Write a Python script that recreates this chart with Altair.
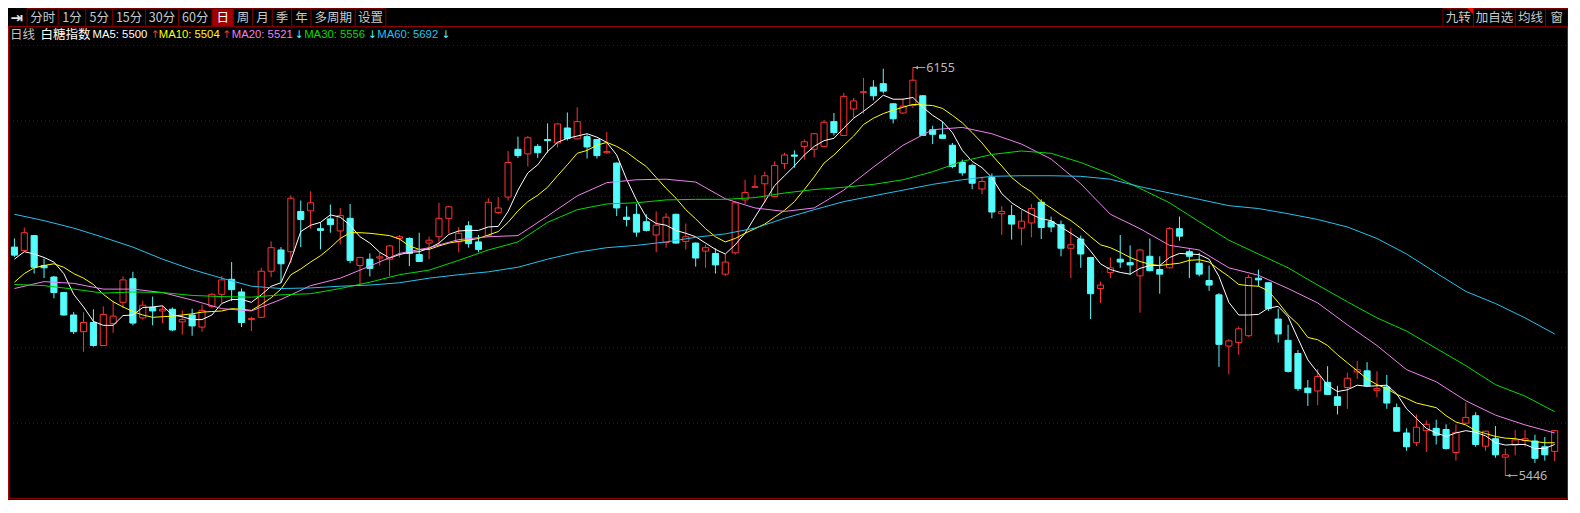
import altair as alt
import numpy as np
import pandas as pd

# ---------------- data ----------------
opens = [5843, 5837, 5863, 5811, 5791, 5764, 5725, 5696, 5712, 5672,
         5710, 5747, 5788, 5720, 5738, 5732, 5735, 5713, 5725, 5704,
         5740, 5761, 5787, 5765, 5717, 5721, 5801, 5838, 5835, 5905,
         5906, 5875, 5892, 5871, 5893, 5811, 5822, 5824, 5822, 5858,
         5858, 5830, 5850, 5861, 5893, 5852, 5880, 5852, 5863, 5903,
         5930, 6013, 6005, 6018, 6030, 6024, 6050, 6031, 6035, 6030,
         6007, 5989, 5895, 5900, 5887, 5864, 5851, 5900, 5853, 5850,
         5836, 5832, 5796, 5833, 5925, 5947, 5953, 5931, 5988, 6003,
         6018, 6013, 6018, 6061, 6037, 6083, 6112, 6121, 6127, 6092,
         6076, 6089, 6106, 6047, 6038, 6020, 5990, 5985, 5944, 5964,
         5901, 5898, 5876, 5885, 5921, 5887, 5882, 5841, 5857, 5825,
         5771, 5799, 5822, 5816, 5793, 5827, 5804, 5807, 5875, 5835,
         5815, 5785, 5760, 5671, 5677, 5689, 5789, 5781, 5718, 5681,
         5658, 5598, 5593, 5608, 5583, 5599, 5626, 5628, 5594, 5600,
         5564, 5520, 5503, 5524, 5528, 5526, 5486, 5537, 5550, 5497,
         5510, 5478, 5499, 5507, 5506, 5496, 5488]
highs = [5858, 5877, 5864, 5823, 5793, 5765, 5730, 5730, 5735, 5740,
         5750, 5792, 5800, 5750, 5757, 5741, 5738, 5733, 5736, 5743,
         5763, 5793, 5817, 5771, 5722, 5807, 5853, 5843, 5933, 5924,
         5940, 5886, 5917, 5911, 5918, 5826, 5832, 5833, 5847, 5864,
         5860, 5868, 5861, 5920, 5915, 5878, 5888, 5864, 5928, 5930,
         6010, 6035, 6036, 6022, 6058, 6058, 6077, 6086, 6039, 6031,
         6043, 5990, 5914, 5918, 5900, 5905, 5902, 5901, 5884, 5851,
         5847, 5841, 5831, 5922, 5960, 5968, 5974, 5992, 6007, 6011,
         6030, 6041, 6064, 6076, 6111, 6102, 6137, 6133, 6153, 6093,
         6101, 6155, 6107, 6054, 6061, 6024, 5995, 5988, 5965, 5971,
         5914, 5916, 5907, 5918, 5926, 5896, 5889, 5876, 5863, 5826,
         5783, 5825, 5864, 5846, 5840, 5858, 5827, 5878, 5896, 5839,
         5833, 5811, 5763, 5683, 5705, 5795, 5804, 5782, 5736, 5708,
         5664, 5612, 5631, 5636, 5602, 5625, 5645, 5643, 5627, 5621,
         5571, 5528, 5552, 5542, 5543, 5535, 5535, 5573, 5556, 5524,
         5532, 5493, 5525, 5525, 5517, 5513, 5525]
lows = [5826, 5836, 5797, 5789, 5754, 5724, 5692, 5661, 5670, 5671,
        5694, 5737, 5707, 5717, 5707, 5711, 5697, 5691, 5689, 5696,
        5737, 5746, 5749, 5704, 5697, 5720, 5791, 5781, 5815, 5843,
        5875, 5839, 5868, 5848, 5815, 5776, 5792, 5811, 5792, 5825,
        5810, 5817, 5822, 5845, 5867, 5834, 5842, 5834, 5860, 5900,
        5924, 5998, 5983, 5998, 6007, 6016, 6028, 6030, 5997, 5997,
        6005, 5897, 5879, 5861, 5870, 5834, 5842, 5849, 5839, 5809,
        5807, 5797, 5793, 5830, 5918, 5946, 5920, 5930, 5979, 5981,
        5995, 5999, 6017, 6037, 6036, 6068, 6075, 6098, 6110, 6058,
        6075, 6085, 6036, 6022, 6031, 5980, 5967, 5944, 5935, 5893,
        5864, 5856, 5846, 5860, 5857, 5869, 5827, 5789, 5807, 5718,
        5746, 5789, 5807, 5795, 5729, 5801, 5762, 5806, 5854, 5789,
        5792, 5767, 5635, 5622, 5656, 5687, 5775, 5732, 5677, 5625,
        5593, 5567, 5568, 5586, 5552, 5562, 5614, 5601, 5582, 5562,
        5522, 5489, 5497, 5487, 5500, 5491, 5472, 5536, 5496, 5489,
        5477, 5446, 5481, 5496, 5468, 5472, 5471]
closes = [5829, 5868, 5808, 5807, 5764, 5725, 5696, 5712, 5672, 5726,
          5723, 5786, 5711, 5742, 5732, 5735, 5699, 5717, 5706, 5733,
          5761, 5786, 5769, 5712, 5719, 5801, 5842, 5814, 5928, 5891,
          5920, 5872, 5882, 5898, 5820, 5825, 5806, 5826, 5845, 5861,
          5832, 5818, 5855, 5893, 5913, 5867, 5849, 5839, 5921, 5911,
          5990, 6002, 6033, 6007, 6028, 6057, 6032, 6061, 6017, 6002,
          6009, 5911, 5891, 5869, 5872, 5881, 5895, 5850, 5861, 5824,
          5842, 5812, 5817, 5920, 5938, 5948, 5967, 5985, 6003, 6001,
          6026, 6040, 6060, 6042, 6105, 6097, 6113, 6106, 6114, 6066,
          6088, 6133, 6037, 6039, 6032, 5983, 5972, 5954, 5957, 5904,
          5905, 5883, 5888, 5910, 5877, 5878, 5841, 5847, 5831, 5762,
          5777, 5807, 5817, 5812, 5838, 5802, 5796, 5875, 5862, 5827,
          5796, 5777, 5674, 5680, 5701, 5790, 5786, 5736, 5692, 5627,
          5597, 5590, 5618, 5587, 5568, 5615, 5630, 5602, 5597, 5572,
          5523, 5496, 5530, 5535, 5516, 5493, 5521, 5547, 5500, 5523,
          5482, 5482, 5508, 5510, 5476, 5482, 5524]

ma5 = [5822, 5835, 5831, 5825, 5817, 5797, 5761, 5739, 5714, 5707,
       5707, 5724, 5725, 5738, 5739, 5741, 5725, 5722, 5717, 5717,
       5725, 5745, 5752, 5752, 5747, 5760, 5775, 5781, 5820, 5870,
       5881, 5886, 5899, 5895, 5881, 5861, 5850, 5834, 5824, 5830,
       5834, 5835, 5841, 5850, 5865, 5871, 5872, 5872, 5878, 5879,
       5905, 5942, 5972, 5986, 6009, 6025, 6032, 6036, 6040, 6034,
       6025, 6003, 5961, 5925, 5895, 5884, 5881, 5872, 5867, 5861,
       5850, 5839, 5831, 5847, 5867, 5895, 5922, 5950, 5967, 5984,
       6003, 6018, 6028, 6032, 6050, 6067, 6079, 6092, 6107, 6100,
       6100, 6103, 6086, 6072, 6061, 6042, 6011, 5992, 5981, 5964,
       5936, 5920, 5909, 5900, 5892, 5889, 5878, 5867, 5856, 5836,
       5814, 5804, 5799, 5796, 5806, 5811, 5811, 5825, 5832, 5831,
       5830, 5822, 5792, 5747, 5725, 5725, 5726, 5737, 5740, 5722,
       5684, 5647, 5625, 5603, 5592, 5595, 5603, 5601, 5602, 5603,
       5588, 5562, 5545, 5528, 5520, 5514, 5520, 5524, 5521, 5515,
       5503, 5499, 5500, 5500, 5493, 5493, 5500]
ma10 = [5782, 5797, 5807, 5811, 5814, 5808, 5797, 5789, 5778, 5761,
        5748, 5739, 5731, 5725, 5721, 5722, 5723, 5725, 5727, 5730,
        5731, 5732, 5736, 5735, 5733, 5743, 5755, 5770, 5795, 5805,
        5817, 5828, 5842, 5858, 5868, 5868, 5867, 5865, 5863, 5857,
        5845, 5839, 5839, 5845, 5850, 5853, 5855, 5858, 5864, 5870,
        5886, 5906, 5922, 5933, 5947, 5967, 5986, 6006, 6011, 6020,
        6025, 6018, 6008, 5995, 5983, 5964, 5945, 5928, 5908, 5892,
        5875, 5861, 5852, 5858, 5867, 5875, 5883, 5895, 5907, 5922,
        5943, 5965, 5989, 6003, 6020, 6036, 6056, 6067, 6075, 6081,
        6086, 6091, 6090, 6089, 6084, 6072, 6059, 6042, 6024, 6003,
        5984, 5964, 5950, 5939, 5922, 5911, 5899, 5889, 5876, 5861,
        5847, 5842, 5834, 5825, 5818, 5813, 5811, 5813, 5815, 5820,
        5821, 5817, 5804, 5792, 5778, 5776, 5775, 5767, 5747, 5725,
        5709, 5686, 5682, 5672, 5656, 5642, 5628, 5614, 5604, 5597,
        5587, 5580, 5572, 5568, 5564, 5550, 5539, 5534, 5524, 5519,
        5514, 5511, 5510, 5507, 5505, 5503, 5503]
slow_idx = list(range(0, 157, 3))
ma20 = [5771, 5783, 5780, 5770, 5770, 5764, 5751, 5736, 5732, 5752,
        5776, 5789, 5810, 5832, 5842, 5856, 5861, 5863, 5897, 5932,
        5955, 5960, 5961, 5956, 5927, 5911, 5905, 5911, 5942, 5982,
        6020, 6047, 6051, 6040, 6022, 5996, 5953, 5900, 5875, 5846,
        5838, 5807, 5794, 5771, 5746, 5708, 5672, 5630, 5609, 5576,
        5551, 5534, 5520]
ma30 = [5778, 5776, 5770, 5763, 5765, 5764, 5759, 5757, 5756, 5760,
        5762, 5771, 5782, 5795, 5803, 5820, 5838, 5852, 5886, 5908,
        5918, 5920, 5925, 5926, 5926, 5929, 5937, 5943, 5947, 5952,
        5960, 5974, 5992, 6004, 6010, 6006, 5990, 5970, 5945, 5920,
        5887, 5855, 5831, 5807, 5777, 5748, 5720, 5697, 5667, 5637,
        5604, 5584, 5557]
ma60 = [5900, 5889, 5876, 5860, 5843, 5822, 5804, 5789, 5775, 5771,
        5772, 5775, 5777, 5781, 5789, 5795, 5800, 5808, 5822, 5834,
        5842, 5846, 5852, 5860, 5866, 5876, 5893, 5908, 5922, 5932,
        5942, 5952, 5960, 5966, 5967, 5967, 5966, 5961, 5948, 5937,
        5926, 5915, 5910, 5901, 5891, 5878, 5858, 5831, 5798, 5766,
        5745, 5720, 5692]

ma_names = ["MA5", "MA10", "MA20", "MA30", "MA60"]
ma_colors = ["#FFFFFF", "#FFFF00", "#F080F0", "#00DD00", "#22C3EE"]

tool_labels = ["分时", "1分", "5分", "15分", "30分", "60分", "日", "周", "月", "季", "年", "多周期", "设置"]
right_labels = ["九转", "加自选", "均线", "窗"]
info_texts = ["日线", "白糖指数", "MA5: 5500", "↑", "MA10: 5504", "↑",
              "MA20: 5521", "↓", "MA30: 5556", "↓", "MA60: 5692", "↓"]

# ---------------- layout ----------------
W, H = 1560, 492
SX, SY = W / 1580.0, H / 513.0
RED, CYAN = "#FF3232", "#54FCFC"
GRID, BORDER, SEP = "#8B0000", "#B40000", "#7A0000"
FONT = "Noto Sans CJK SC"

tool_edges = [19.3, 51, 78.7, 106, 139.3, 172.7, 206.7, 228.3, 247.7, 267.7, 287.3, 307, 351.7, 382.7]
right_edges = [1453.3, 1484.3, 1526.7, 1557.3, 1580]
info_x = [2, 33, 85.7, 144.5, 152.7, 217, 226.7, 290.5, 300, 364.5, 374, 439]
info_col = ["#C0C0C0", "#FFFFFF", ma_colors[0], RED, ma_colors[1], RED,
            ma_colors[2], CYAN, ma_colors[3], CYAN, ma_colors[4], CYAN]

xs = alt.Scale(domain=[-0.65, 157.35], nice=False, zero=False)
ys = alt.Scale(domain=[5403.5, 6258.5], nice=False, zero=False)

n = len(opens)
df = pd.DataFrame({"i": np.arange(n), "open": opens, "high": highs, "low": lows, "close": closes})
up = df["close"] >= df["open"]
df["lo"] = np.minimum(df["open"], df["close"])
df["hi"] = np.maximum(df["open"], df["close"])
df["x0"] = df["i"] - 0.31
df["x1"] = df["i"] + 0.31
df["line_c"] = np.where(up, RED, CYAN)
df["fill_c"] = np.where(up, "#000000", CYAN)

wicks = alt.Chart(df).mark_rule(strokeWidth=1).encode(
    x=alt.X("i:Q", scale=xs, axis=None),
    y=alt.Y("low:Q", scale=ys, axis=None), y2="high:Q",
    color=alt.Color("line_c:N", scale=None))
bodies = alt.Chart(df).mark_rect(strokeWidth=1).encode(
    x=alt.X("x0:Q", scale=xs, axis=None), x2="x1:Q",
    y=alt.Y("lo:Q", scale=ys, axis=None), y2="hi:Q",
    fill=alt.Fill("fill_c:N", scale=None),
    stroke=alt.Stroke("line_c:N", scale=None))

rows = []
for name, idx, vals in [("MA5", range(n), ma5), ("MA10", range(n), ma10),
                        ("MA20", slow_idx, ma20), ("MA30", slow_idx, ma30),
                        ("MA60", slow_idx, ma60)]:
    for k, v in zip(idx, vals):
        rows.append({"i": k, "v": v, "ma": name})
ma_df = pd.DataFrame(rows)
ma_lines = alt.Chart(ma_df).mark_line(strokeWidth=1).encode(
    x=alt.X("i:Q", scale=xs, axis=None),
    y=alt.Y("v:Q", scale=ys, axis=None),
    color=alt.Color("ma:N", scale=alt.Scale(domain=ma_names, range=ma_colors), legend=None),
    order="i:Q")

imax, imin = int(np.argmax(highs)), int(np.argmin(lows))
ann = pd.DataFrame({"i": [imax, imin], "p": [highs[imax], lows[imin]],
                    "label": [str(highs[imax]), str(lows[imin])]})
ann["i2"] = ann["i"] + 1.25
ann["ia"] = ann["i"] + 0.35
ann["it"] = ann["i"] + 1.35
ann_rule = alt.Chart(ann).mark_rule(color="#A8A8A8", strokeWidth=1).encode(
    x=alt.X("i:Q", scale=xs, axis=None), x2="i2:Q",
    y=alt.Y("p:Q", scale=ys, axis=None))
ann_head = alt.Chart(ann).mark_point(shape="triangle-left", filled=True, size=14,
                                     color="#A8A8A8", opacity=1).encode(
    x=alt.X("ia:Q", scale=xs, axis=None), y=alt.Y("p:Q", scale=ys, axis=None))
ann_text = alt.Chart(ann).mark_text(align="left", baseline="middle", fontSize=12.5,
                                    font="Noto Sans", color="#B8B8B8").encode(
    x=alt.X("it:Q", scale=xs, axis=None), y=alt.Y("p:Q", scale=ys, axis=None),
    text="label:N")

# grid lines (plot area split into 6 bands) and frame
grid_df = pd.DataFrame({"gy": [(39 + k * 78.78) * SY for k in range(6)]})
grid = alt.Chart(grid_df).mark_rule(color=GRID, strokeWidth=1, strokeDash=[1, 3]).encode(
    y=alt.Y("gy:Q", scale=None), x=alt.value(1), x2=alt.value(W))
frame_h = pd.DataFrame({"fy": [19.5 * SY, 511.7 * SY]})
frame_hl = alt.Chart(frame_h).mark_rule(color=BORDER, strokeWidth=1).encode(
    y=alt.Y("fy:Q", scale=None), x=alt.value(0), x2=alt.value(W))
frame_v = pd.DataFrame({"fx": [0.5, W - 0.5]})
frame_vl = alt.Chart(frame_v).mark_rule(color=BORDER, strokeWidth=1).encode(
    x=alt.X("fx:Q", scale=None), y=alt.value(19.5 * SY), y2=alt.value(511.7 * SY))

# toolbar
tb_rows = []
for k, lab in enumerate(tool_labels):
    tb_rows.append({"x0": tool_edges[k] * SX, "x1": tool_edges[k + 1] * SX, "label": lab,
                    "fill": "#A00000" if lab == "日" else "#000000",
                    "tc": "#FFFFFF" if lab == "日" else "#C8C8C8"})
for k, lab in enumerate(right_labels):
    tb_rows.append({"x0": right_edges[k] * SX, "x1": right_edges[k + 1] * SX, "label": lab,
                    "fill": "#000000", "tc": "#C8C8C8"})
tb = pd.DataFrame(tb_rows)
tb["xc"] = (tb["x0"] + tb["x1"]) / 2
tb_rect = alt.Chart(tb).mark_rect(stroke=SEP, strokeWidth=1).encode(
    x=alt.X("x0:Q", scale=None), x2="x1:Q",
    y=alt.value(0.5), y2=alt.value(19.3 * SY),
    fill=alt.Fill("fill:N", scale=None))
tb_text = alt.Chart(tb).mark_text(baseline="middle", align="center", fontSize=12.5, font=FONT).encode(
    x=alt.X("xc:Q", scale=None), y=alt.value(10 * SY),
    text="label:N", color=alt.Color("tc:N", scale=None))
icon = alt.Chart(pd.DataFrame({"ix": [9 * SX], "t": ["⇥"]})).mark_text(
    baseline="middle", align="center", font="DejaVu Sans", fontWeight="bold",
    fontSize=15, color="#E0E0E0").encode(
    x=alt.X("ix:Q", scale=None), y=alt.value(10 * SY), text="t:N")
corner = alt.Chart(pd.DataFrame({"cx": [1480.8 * SX]})).mark_point(
    shape="M -1 -1 L 1 -1 L 1 1 Z", filled=True, size=42, color="#FF0000", opacity=1,
    strokeWidth=0).encode(x=alt.X("cx:Q", scale=None), y=alt.value(3.5 * SY))

info_df = pd.DataFrame({"x": [v * SX for v in info_x], "t": info_texts, "c": info_col})
info_df["grp"] = ["cjk" if ("线" in t or "糖" in t) else ("arrow" if t in ("↑", "↓") else "latin")
                  for t in info_texts]
info_layers = []
for grp, fnt, fs in [("cjk", FONT, 12.5), ("latin", "Liberation Sans", 11.3), ("arrow", "DejaVu Sans", 10.5)]:
    info_layers.append(
        alt.Chart(info_df[info_df["grp"] == grp]).mark_text(
            align="left", baseline="middle", fontSize=fs, font=fnt).encode(
            x=alt.X("x:Q", scale=None), y=alt.value(28.5 * SY), text="t:N",
            color=alt.Color("c:N", scale=None)))

chart = alt.layer(
    grid, frame_hl, frame_vl, tb_rect, tb_text, icon, corner, *info_layers,
    wicks, bodies, ma_lines, ann_rule, ann_head, ann_text
).resolve_scale(x="independent", y="independent").properties(
    width=W, height=H, padding=0, background="#000000",
    autosize=alt.AutoSizeParams(type="none")
).configure_view(strokeWidth=0)

chart.save("out.html", embed_options={"renderer": "svg", "actions": False})
